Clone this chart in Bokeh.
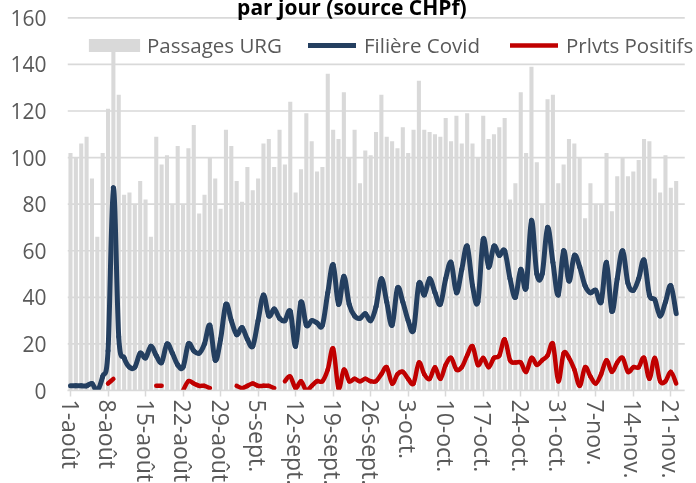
import numpy as np
from bokeh.plotting import figure
from bokeh.models import (ColumnDataSource, Legend, LegendItem, Label, FixedTicker, Range1d)
from bokeh.embed import file_html
from bokeh.resources import INLINE

# ---------------- data ----------------
passages_urg = [102, 100, 106, 109, 91, 66, 102, 121, 146, 127,
                84, 85, 80, 90, 82, 66, 109, 97, 101, 80,
                105, 80, 104, 114, 76, 84, 100, 91, 78, 112,
                105, 90, 81, 96, 86, 91, 106, 108, 96, 112,
                97, 124, 85, 95, 119, 107, 94, 96, 136, 112,
                108, 128, 100, 112, 89, 103, 101, 111, 127, 109,
                107, 104, 113, 102, 112, 133, 112, 111, 110, 109,
                117, 107, 118, 106, 119, 106, 100, 118, 108, 110,
                113, 117, 82, 89, 128, 102, 139, 98, 80, 125,
                127, 89, 97, 108, 106, 100, 74, 89, 80, 80,
                102, 77, 92, 100, 92, 94, 99, 108, 107, 91,
                85, 101, 87, 90]

filiere_covid = [2, 2, 2, 2, 3, 0, 6, 17, 87, 23,
                 14, 10, 10, 16, 14, 19, 15, 12, 20, 16,
                 11, 10, 20, 17, 16, 20, 28, 13, 22, 37,
                 30, 24, 27, 22, 19, 30, 41, 32, 35, 31,
                 30, 34, 19, 38, 28, 30, 29, 28, 42, 54,
                 37, 49, 37, 32, 31, 33, 30, 36, 48, 38,
                 28, 44, 38, 30, 26, 46, 41, 48, 42, 37,
                 48, 55, 42, 52, 62, 45, 38, 65, 53, 62,
                 58, 60, 48, 40, 52, 44, 73, 50, 50, 70,
                 55, 41, 60, 47, 58, 53, 45, 42, 43, 38,
                 55, 34, 48, 60, 46, 43, 48, 56, 41, 39,
                 32, 38, 45, 33]

N = None
prlvts_positifs = [N, N, N, N, N, N, N, 3, 5, N,
                   N, N, N, N, N, N, 2, 2, N, N,
                   N, 0, 4, 3, 2, 2, 1, N, N, N,
                   N, 2, 1, 2, 3, 2, 2, 2, 1, N,
                   4, 6, 1, 4, 0, 2, 4, 4, 9, 18,
                   1, 9, 4, 5, 4, 5, 4, 4, 7, 10,
                   3, 7, 8, 5, 3, 12, 7, 5, 10, 5,
                   11, 14, 9, 10, 15, 19, 11, 14, 10, 14,
                   15, 22, 13, 12, 12, 8, 14, 11, 13, 15,
                   20, 4, 16, 14, 9, 2, 10, 6, 3, 7,
                   13, 8, 12, 14, 8, 10, 10, 14, 5, 14,
                   4, 4, 8, 3]

tick_labels = ["1-août", "8-août", "15-août", "22-août", "29-août", "5-sept.",
               "12-sept.", "19-sept.", "26-sept.", "3-oct.", "10-oct.", "17-oct.",
               "24-oct.", "31-oct.", "7-nov.", "14-nov.", "21-nov."]
y_ticks = [0, 20, 40, 60, 80, 100, 120, 140, 160]
title_text = "par jour (source CHPf)"

# ---------------- style ----------------
FONT = "Open Sans"
GREY_TXT = "#595959"
GRID = "#d9d9d9"
BLUE = "#243f60"
RED = "#c00000"

X_START, X_PLOT_END, X_CANVAS_END = -0.56, 114.6, 116.79
Y_TOP = 171.74   # frame extends to the top of the canvas (title area)


def smooth_segments(vals):
    """Bezier pieces (smoothed line rendering) between consecutive valid points."""
    x = np.arange(len(vals), dtype=float)
    y = np.array([np.nan if v is None else float(v) for v in vals])
    d = dict(x0=[], y0=[], x1=[], y1=[], cx0=[], cy0=[], cx1=[], cy1=[])
    n = len(y)
    for i in range(n - 1):
        if np.isnan(y[i]) or np.isnan(y[i + 1]):
            continue
        p1 = (x[i], y[i])
        p2 = (x[i + 1], y[i + 1])
        p0 = (x[i - 1], y[i - 1]) if i > 0 and not np.isnan(y[i - 1]) else p1
        p3 = (x[i + 2], y[i + 2]) if i + 2 < n and not np.isnan(y[i + 2]) else p2
        d["x0"].append(p1[0]); d["y0"].append(p1[1])
        d["x1"].append(p2[0]); d["y1"].append(p2[1])
        d["cx0"].append(p1[0] + (p2[0] - p0[0]) / 6.0)
        d["cy0"].append(p1[1] + (p2[1] - p0[1]) / 6.0)
        d["cx1"].append(p2[0] - (p3[0] - p1[0]) / 6.0)
        d["cy1"].append(p2[1] - (p3[1] - p1[1]) / 6.0)
    return ColumnDataSource(d)


W, H = 696, 510
p = figure(width=W, height=H, output_backend="svg", toolbar_location=None,
           x_range=Range1d(X_START, X_CANVAS_END), y_range=Range1d(0, Y_TOP),
           min_border_left=67, min_border_right=0, min_border_top=0, min_border_bottom=110,
           outline_line_color=None, background_fill_color="white", border_fill_color="white")
# the top of the original picture cuts the title: let the window cut it the same way
p.styles = {"position": "fixed", "top": "-10px", "left": "0px"}

# horizontal gridlines, limited to the plotting area
p.xgrid.grid_line_color = None
p.ygrid.grid_line_color = None
p.segment(x0=X_START, x1=X_PLOT_END, y0=y_ticks, y1=y_ticks, line_color=GRID, line_width=1.7)

# bars
days = list(range(len(passages_urg)))
bars = p.vbar(x=days, top=passages_urg, width=0.76, fill_color=GRID, line_color=None)

# lines
blue_r = p.bezier(source=smooth_segments(filiere_covid), x0="x0", y0="y0", x1="x1", y1="y1",
                  cx0="cx0", cy0="cy0", cx1="cx1", cy1="cy1",
                  line_color=BLUE, line_width=5, line_cap="round")
red_r = p.bezier(source=smooth_segments(prlvts_positifs), x0="x0", y0="y0", x1="x1", y1="y1",
                 cx0="cx0", cy0="cy0", cx1="cx1", cy1="cy1",
                 line_color=RED, line_width=4.5, line_cap="round")

# axes
p.yaxis.ticker = FixedTicker(ticks=y_ticks)
p.yaxis.axis_line_color = None
p.yaxis.major_tick_line_color = None
p.yaxis.minor_tick_line_color = None
p.yaxis.major_tick_out = 0
p.yaxis.major_tick_in = 0
p.yaxis.major_label_standoff = 21
p.yaxis.major_label_text_font = FONT
p.yaxis.major_label_text_font_size = "21px"
p.yaxis.major_label_text_color = GREY_TXT

tick_pos = [7 * k for k in range(len(tick_labels))]
p.xaxis.ticker = FixedTicker(ticks=tick_pos)
p.xaxis.bounds = (X_START, X_PLOT_END)
p.xaxis.major_label_overrides = {t: lab for t, lab in zip(tick_pos, tick_labels)}
p.xaxis.major_label_orientation = "vertical"
p.xaxis.axis_line_color = GRID
p.xaxis.axis_line_width = 1.7
p.xaxis.major_tick_line_color = GRID
p.xaxis.major_tick_line_width = 1.5
p.xaxis.major_tick_out = 6
p.xaxis.major_tick_in = 0
p.xaxis.minor_tick_line_color = None
p.xaxis.major_label_standoff = 3
p.xaxis.major_label_text_font = FONT
p.xaxis.major_label_text_font_size = "23px"
p.xaxis.major_label_text_color = GREY_TXT


def make_legend(item, loc, gw, gh, standoff):
    lg = Legend(items=[item], location=loc, orientation="horizontal",
                glyph_width=gw, glyph_height=gh, label_height=gh, label_standoff=standoff,
                padding=0, margin=0, spacing=0,
                border_line_color=None, background_fill_alpha=0,
                label_text_font=FONT, label_text_font_size="20.5px",
                label_text_color=GREY_TXT, label_text_baseline="middle")
    p.add_layout(lg)


make_legend(LegendItem(label="Passages URG", renderers=[bars]), (15, 331), 64, 16, 1)
make_legend(LegendItem(label="Filière Covid", renderers=[blue_r]), (241, 331), 48, 16, 8)
make_legend(LegendItem(label="Prlvts Positifs", renderers=[red_r]), (443, 331), 48, 16, 8)

# title (partly above the window top, as in the original)
title = Label(x=52.5, y=164.6, text=title_text, text_align="center",
              text_baseline="alphabetic", text_font=FONT, text_font_style="bold",
              text_font_size="21px", text_color="black")
p.add_layout(title)

open("out.html", "w").write(file_html(p, INLINE))
